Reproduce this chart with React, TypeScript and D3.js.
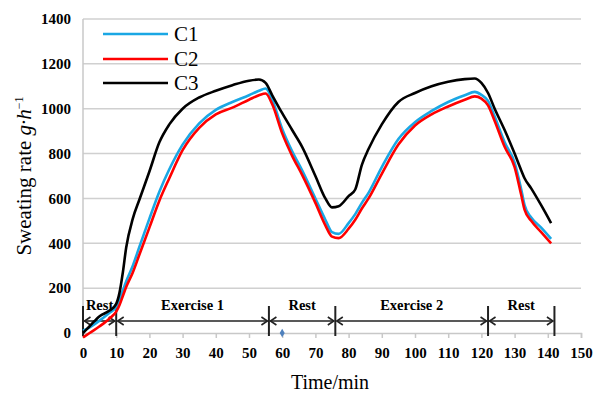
import React, { useEffect, useRef } from "react";
import * as d3 from "d3";

// time (min) and sweating rate (g/h)
const times = [0, 2, 5, 8, 10, 11, 12, 13, 15, 17, 20, 23, 26, 30, 35, 40, 45, 50, 53, 55, 57, 60, 63, 66, 70, 73, 75, 77, 80, 82, 84, 86, 90, 95, 100, 105, 110, 115, 118, 120, 122, 124, 127, 130, 132, 133, 135, 138, 141];
const c1 = [10, 25, 55, 90, 115, 150, 190, 230, 300, 385, 510, 630, 730, 840, 935, 995, 1030, 1060, 1080, 1090, 1040, 910, 810, 725, 600, 505, 450, 442, 490, 530, 580, 625, 740, 865, 940, 990, 1030, 1060, 1075, 1062, 1035, 965, 850, 760, 640, 570, 515, 470, 420];
const c2 = [-20, 0, 30, 65, 95, 125, 165, 205, 270, 350, 470, 590, 690, 815, 915, 975, 1005, 1040, 1060, 1068, 1020, 890, 790, 705, 580, 480, 430, 423, 465, 505, 555, 600, 710, 840, 925, 975, 1010, 1040, 1055, 1045, 1015, 945, 830, 740, 615, 550, 500, 450, 400];
const c3 = [0, 30, 75, 100, 130, 180, 270, 380, 510, 595, 720, 850, 930, 1000, 1050, 1080, 1105, 1125, 1130, 1115, 1060, 980, 905, 830, 700, 600, 560, 565, 610, 640, 750, 820, 930, 1030, 1070, 1100, 1120, 1132, 1135, 1115, 1070, 1000, 905, 800, 725, 690, 645, 570, 490];

const seriesNames = ["C1", "C2", "C3"];
const seriesColors = ["#1aa7e4", "#ff0000", "#000000"];

const phaseLabels = ["Rest", "Exercise 1", "Rest", "Exercise 2", "Rest"];
const phaseBounds = [0, 10, 56, 76, 122, 142];

const xTicks = d3.range(0, 151, 10);
const yTicks = d3.range(0, 1401, 200);
const markerPoint = { t: 60, v: 0 };

const width = 595;
const height = 394;
const margin = { top: 19, right: 14, bottom: 61, left: 83 };
const serif = "Liberation Serif, Times New Roman, serif";

export default function App() {
  const svgRef = useRef<SVGSVGElement>(null);

  useEffect(() => {
    const svg = d3.select(svgRef.current);
    svg.selectAll("*").remove();

    const x = d3.scaleLinear().domain([0, 150]).range([margin.left, width - margin.right]);
    const y = d3.scaleLinear().domain([0, 1400]).range([height - margin.bottom, margin.top]);

    // gridlines
    svg
      .append("g")
      .selectAll("line")
      .data(yTicks.filter((d) => d > 0))
      .enter()
      .append("line")
      .attr("x1", x(0))
      .attr("x2", x(150))
      .attr("y1", (d) => y(d))
      .attr("y2", (d) => y(d))
      .attr("stroke", "#d0d0d0")
      .attr("stroke-width", 1.5);

    // y axis line
    svg
      .append("line")
      .attr("x1", x(0))
      .attr("x2", x(0))
      .attr("y1", y(0))
      .attr("y2", y(1400))
      .attr("stroke", "#c8c8c8")
      .attr("stroke-width", 1.5);

    // x axis
    const xAxis = svg
      .append("g")
      .attr("transform", `translate(0,${y(0)})`)
      .call(d3.axisBottom(x).tickValues(xTicks).tickFormat(d3.format("d")).tickSize(5).tickPadding(9))
      .attr("font-family", serif)
      .attr("font-size", 15);
    xAxis.select(".domain").attr("stroke", "#c8c8c8").attr("stroke-width", 1.5);
    xAxis.selectAll(".tick line").attr("stroke", "#c8c8c8").attr("stroke-width", 1.5);
    xAxis.selectAll("text").attr("font-weight", "bold").attr("fill", "#000");

    // y axis labels
    const yAxis = svg
      .append("g")
      .attr("transform", `translate(${x(0)},0)`)
      .call(d3.axisLeft(y).tickValues(yTicks).tickFormat(d3.format("d")).tickSize(0).tickPadding(12))
      .attr("font-family", serif)
      .attr("font-size", 15);
    yAxis.select(".domain").remove();
    yAxis.selectAll("text").attr("font-weight", "bold").attr("fill", "#000");

    // phase annotations
    const annY = 321;
    const ann = svg.append("g").attr("stroke", "#222").attr("fill", "none");
    phaseBounds.forEach((b) => {
      ann
        .append("line")
        .attr("x1", x(b))
        .attr("x2", x(b))
        .attr("y1", 306)
        .attr("y2", 336)
        .attr("stroke-width", 2);
    });
    phaseLabels.forEach((label, i) => {
      const a = x(phaseBounds[i]) + 1.5;
      const b = x(phaseBounds[i + 1]) - 1.5;
      ann.append("line").attr("x1", a).attr("x2", b).attr("y1", annY).attr("y2", annY).attr("stroke-width", 1.6);
      ann
        .append("path")
        .attr("d", `M${a + 6},${annY - 4}L${a},${annY}L${a + 6},${annY + 4}`)
        .attr("stroke-width", 1.6);
      ann
        .append("path")
        .attr("d", `M${b - 6},${annY - 4}L${b},${annY}L${b - 6},${annY + 4}`)
        .attr("stroke-width", 1.6);
      svg
        .append("text")
        .attr("x", (x(phaseBounds[i]) + x(phaseBounds[i + 1])) / 2)
        .attr("y", 310)
        .attr("text-anchor", "middle")
        .attr("font-family", serif)
        .attr("font-size", 14.5)
        .attr("font-weight", "bold")
        .text(label);
    });

    // stray marker
    svg
      .append("path")
      .attr("d", d3.symbol(d3.symbolDiamond, 22)())
      .attr("transform", `translate(${x(markerPoint.t)},${y(markerPoint.v)})`)
      .attr("fill", "#4f81bd");

    // series lines
    const line = d3
      .line<number>()
      .x((_, i) => x(times[i]))
      .y((d) => y(d))
      .curve(d3.curveMonotoneX);

    [c1, c2, c3].forEach((vals, i) => {
      svg
        .append("path")
        .datum(vals)
        .attr("d", line)
        .attr("fill", "none")
        .attr("stroke", seriesColors[i])
        .attr("stroke-width", 2.6)
        .attr("stroke-linejoin", "round");
    });

    // legend
    seriesNames.forEach((name, i) => {
      const ly = [34, 59, 83][i];
      svg
        .append("line")
        .attr("x1", 103)
        .attr("x2", 168)
        .attr("y1", ly)
        .attr("y2", ly)
        .attr("stroke", seriesColors[i])
        .attr("stroke-width", 2.6);
      svg
        .append("text")
        .attr("x", 174)
        .attr("y", ly + 7)
        .attr("font-family", serif)
        .attr("font-size", 21)
        .text(name);
    });

    // axis titles
    svg
      .append("text")
      .attr("x", 330)
      .attr("y", 389)
      .attr("text-anchor", "middle")
      .attr("font-family", serif)
      .attr("font-size", 20)
      .text("Time/min");

    const yl = svg
      .append("text")
      .attr("transform", `translate(31,${y(700)}) rotate(-90)`)
      .attr("text-anchor", "middle")
      .attr("font-family", serif)
      .attr("font-size", 21);
    yl.append("tspan").text("Sweating rate ");
    yl.append("tspan").attr("font-style", "italic").text("g·h");
    yl.append("tspan").attr("dy", -8).attr("font-size", 12).text("−1");
  }, []);

  return (
    <div style={{ position: "fixed", left: 0, top: 0, background: "#fff" }}>
      <svg ref={svgRef} width={width} height={height}></svg>
    </div>
  );
}
